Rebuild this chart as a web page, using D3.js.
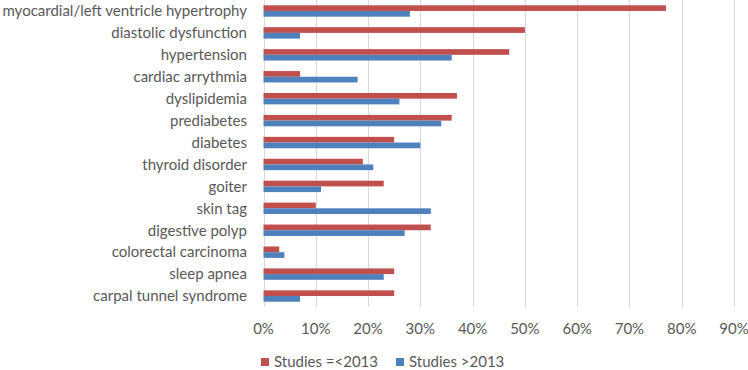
<!DOCTYPE html>
<html><head><meta charset="utf-8">
<script src="https://cdn.jsdelivr.net/npm/d3@7"></script>
<style>body{margin:0;background:#fff}svg{display:block}</style>
</head><body>
<script>
const categories = ["myocardial/left ventricle hypertrophy","diastolic dysfunction","hypertension","cardiac arrythmia","dyslipidemia","prediabetes","diabetes","thyroid disorder","goiter","skin tag","digestive polyp","colorectal carcinoma","sleep apnea","carpal tunnel syndrome"];
const seriesNames = ["Studies =<2013","Studies >2013"];
const before2013 = [77,50,47,7,37,36,25,19,23,10,32,3,25,25];
const after2013 = [28,7,36,18,26,34,30,21,11,32,27,4,23,7];
const xTicks = [0,10,20,30,40,50,60,70,80,90];
const colors = ["#C0504D","#4F81BD"];

const W=748,H=370;
const m={left:263.5,right:14,top:0,bottom:63};
const svg=d3.select("body").append("svg").attr("width",W).attr("height",H);
const font="Lato, sans-serif";
const x=d3.scaleLinear().domain([0,90]).range([m.left,W-m.right]);
const y=d3.scaleBand().domain(categories).range([m.top,H-m.bottom]).paddingInner(0.48).paddingOuter(0.24);
const sub=d3.scaleBand().domain([0,1]).range([0,y.bandwidth()]);

svg.append("g").selectAll("line").data(xTicks).join("line")
 .attr("x1",d=>Math.round(x(d))+0.5).attr("x2",d=>Math.round(x(d))+0.5)
 .attr("y1",m.top).attr("y2",H-m.bottom).attr("stroke","#D9D9D9").attr("stroke-width",1);

const data=[before2013,after2013];
data.forEach((vals,si)=>{
  svg.append("g").selectAll("rect").data(vals).join("rect")
   .attr("x",x(0)).attr("y",(d,i)=>y(categories[i])+sub(si))
   .attr("width",d=>x(d)-x(0)).attr("height",sub.bandwidth())
   .attr("fill",colors[si]);
});

svg.append("g").selectAll("text").data(categories).join("text")
 .attr("x",247).attr("y",d=>y(d)+y.bandwidth()/2).attr("dy","0.35em")
 .attr("text-anchor","end").attr("font-family",font).attr("font-size",15)
 .attr("fill","#595959").text(d=>d);

svg.append("g").selectAll("text").data(xTicks).join("text")
 .attr("x",d=>x(d)).attr("y",329).attr("dy","0.35em")
 .attr("text-anchor","middle").attr("font-family",font).attr("font-size",15)
 .attr("fill","#595959").text(d=>d+"%");

const legX=[261,396];
seriesNames.forEach((n,i)=>{
  const g=svg.append("g");
  g.append("rect").attr("x",legX[i]).attr("y",358).attr("width",8).attr("height",8).attr("fill",colors[i]);
  g.append("text").attr("x",legX[i]+13).attr("y",362).attr("dy","0.35em")
   .attr("font-family",font).attr("font-size",15).attr("fill","#595959").text(n);
});
</script>
</body></html>
